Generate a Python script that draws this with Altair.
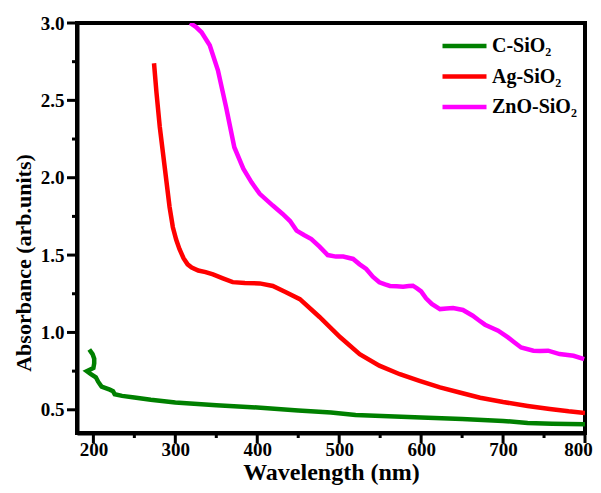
import altair as alt
import pandas as pd

# Series names
names = ["C-SiO\u2082", "Ag-SiO\u2082", "ZnO-SiO\u2082"]
colors = ["#008000", "#ff0000", "#ff00ff"]

# C-SiO2
c_x = [195, 199, 201, 201, 200, 192, 197, 203, 206, 210, 220, 224, 226, 235, 250, 270, 300,
       350, 400, 450, 490, 520, 560, 600, 650, 700, 730, 760, 800]
c_y = [0.89, 0.86, 0.83, 0.80, 0.77, 0.75, 0.73, 0.71, 0.68, 0.65, 0.63, 0.62, 0.60, 0.59, 0.58,
       0.565, 0.547, 0.53, 0.515, 0.495, 0.483, 0.467, 0.458, 0.450, 0.44, 0.428, 0.415, 0.41, 0.407]

# Ag-SiO2
a_x = [274, 277, 281, 287, 293, 297, 301, 305, 310, 315, 320, 328, 337, 346, 358, 370, 385, 403,
       419, 435, 452, 476, 501, 525, 549, 574, 598, 623, 647, 672, 700, 730, 757, 780, 800]
a_y = [2.74, 2.55, 2.33, 2.07, 1.81, 1.68, 1.60, 1.54, 1.48, 1.44, 1.42, 1.40, 1.39, 1.375, 1.35,
       1.325, 1.32, 1.317, 1.30, 1.26, 1.215, 1.10, 0.97, 0.86, 0.785, 0.73, 0.687, 0.645, 0.612,
       0.578, 0.55, 0.525, 0.505, 0.49, 0.48]

# ZnO-SiO2
z_x = [318, 325, 332, 342, 352, 362, 372, 383, 393, 403, 419, 431, 440, 448, 457, 466, 476, 486,
       496, 505, 517, 525, 533, 541, 549, 556, 562, 570, 578, 585, 590, 595, 600, 606, 613, 623,
       631, 639, 651, 663, 670, 678, 686, 694, 706, 714, 722, 737, 745, 755, 769, 786, 799]
z_y = [3.0, 2.975, 2.94, 2.856, 2.694, 2.456, 2.197, 2.058, 1.97, 1.896, 1.82, 1.766, 1.72, 1.658,
       1.63, 1.604, 1.555, 1.50, 1.49, 1.49, 1.475, 1.44, 1.41, 1.36, 1.324, 1.31, 1.30, 1.298,
       1.296, 1.30, 1.302, 1.285, 1.265, 1.22, 1.184, 1.151, 1.155, 1.158, 1.145, 1.108, 1.08,
       1.05, 1.03, 1.011, 0.968, 0.935, 0.903, 0.882, 0.88, 0.882, 0.86, 0.849, 0.828]

x_major = [200, 300, 400, 500, 600, 700, 800]
x_minor = [250, 350, 450, 550, 650, 750]
y_major = [0.5, 1.0, 1.5, 2.0, 2.5, 3.0]
y_minor = [0.75, 1.25, 1.75, 2.25, 2.75]

rows = []
for name, xs, ys in zip(names, [c_x, a_x, z_x], [c_y, a_y, z_y]):
    for i, (x, y) in enumerate(zip(xs, ys)):
        rows.append({"series": name, "wl": x, "abs": y, "idx": i})
df = pd.DataFrame(rows)

FONT = "Liberation Serif"
W, H = 508, 410
XT = "Wavelength (nm)"
YT = "Absorbance (arb.units)"
xscale = alt.Scale(domain=[180, 800], nice=False, zero=False)
yscale = alt.Scale(domain=[0.35, 3.0], nice=False, zero=False)
x_axis = alt.Axis(values=x_major, ticks=False, labelFlush=False, labelOverlap=False,
                  labelOffset={"condition": {"test": "datum.value === 800", "value": -7}, "value": 0},
                  labelPadding=7, titlePadding=1, titleFontSize=24)
y_axis = alt.Axis(values=y_major, format=".1f", ticks=False, labelFlush=False,
                  labelOverlap=False, labelPadding=13, title=None)

lines = alt.Chart(df).mark_line(strokeWidth=4.5, clip=True).encode(
    x=alt.X("wl:Q", title=XT, scale=xscale, axis=x_axis),
    y=alt.Y("abs:Q", scale=yscale, axis=y_axis),
    color=alt.Color("series:N", sort=names,
                    scale=alt.Scale(domain=names, range=colors),
                    legend=alt.Legend(title=None, orient="none", legendX=363, legendY=8,
                                      symbolType="stroke", symbolStrokeWidth=4.5, symbolSize=1936,
                                      clipHeight=30, rowPadding=0.5,
                                      labelFont=FONT, labelFontSize=20, labelFontWeight="bold",
                                      labelColor="black", labelOffset=3)),
    order=alt.Order("idx:Q"),
)

def xticks(vals, length):
    d = pd.DataFrame({"wl": vals})
    return alt.Chart(d).mark_rule(color="black", strokeWidth=3).encode(
        x=alt.X("wl:Q", title=XT, scale=xscale, axis=x_axis),
        y=alt.value(H), y2=alt.value(H + length))

def yticks(vals, length):
    d = pd.DataFrame({"abs": vals})
    return alt.Chart(d).mark_rule(color="black", strokeWidth=3).encode(
        y=alt.Y("abs:Q", scale=yscale, axis=y_axis),
        x=alt.value(0), x2=alt.value(-length))

# y-axis title, placed as in the original figure (below the axis middle)
ytitle = alt.Chart(pd.DataFrame({"t": [YT]})).mark_text(
    angle=270, align="center", baseline="middle", font=FONT, fontSize=22,
    fontWeight="bold", color="black"
).encode(text="t:N", x=alt.value(-53), y=alt.value(240))

chart = alt.layer(
    lines, xticks(x_major, 10), xticks(x_minor, 5), yticks(y_major, 10), yticks(y_minor, 5),
    ytitle
).properties(
    width=W, height=H,
    autosize=alt.AutoSizeParams(type="none"),
    padding={"left": 69, "top": 15, "right": 8, "bottom": 52},
).configure_axis(
    grid=False, domainColor="black", domainWidth=4,
    labelFont=FONT, labelFontSize=19, labelFontWeight="bold", labelColor="black",
    titleFont=FONT, titleFontWeight="bold", titleColor="black",
).configure_view(
    stroke="black", strokeWidth=4
)

chart.save("out.html", embed_options={"renderer": "svg", "actions": False})
